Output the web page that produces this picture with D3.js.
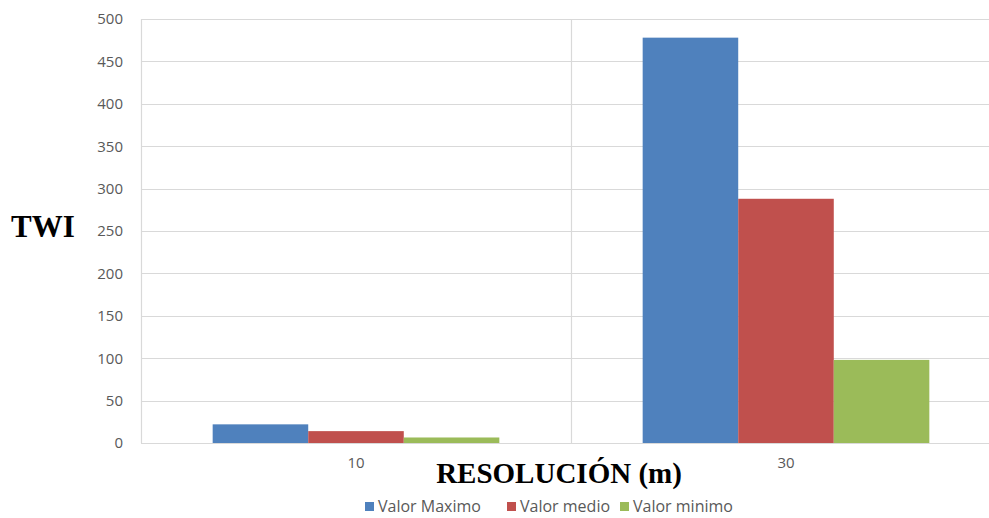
<!DOCTYPE html>
<html>
<head>
<meta charset="utf-8">
<script src="https://cdn.jsdelivr.net/npm/d3@7"></script>
<style>
  body { margin: 0; background: #fff; }
  .tick text { font-family: "Open Sans", sans-serif; font-size: 15px; fill: #595959; }
  .title { font-family: "Liberation Serif", "Times New Roman", serif; font-weight: bold; fill: #000; }
  .legend text { font-family: "Open Sans", sans-serif; font-size: 16px; fill: #595959; }
</style>
</head>
<body>
<div id="chart"></div>
<script>
const resolutions = ['10', '30'];
const seriesNames = ['Valor Maximo', 'Valor medio', 'Valor minimo'];
const valorMaximo = [22, 478];
const valorMedio = [14, 288];
const valorMinimo = [6.5, 98];
const yTicks = [0, 50, 100, 150, 200, 250, 300, 350, 400, 450, 500];
const colors = ['#4f81bd', '#c0504d', '#9bbb59'];

const seriesValues = [valorMaximo, valorMedio, valorMinimo];
const data = resolutions.map((r, i) => ({
  res: r,
  values: seriesNames.map((name, j) => ({ name, idx: j, value: seriesValues[j][i] }))
}));

const width = 989, height = 518;
const margin = { left: 141, right: 1001, top: 19, bottom: 443 };

const svg = d3.select('#chart').append('svg')
  .attr('width', width)
  .attr('height', height);

const x0 = d3.scaleBand()
  .domain(resolutions)
  .range([margin.left, margin.right])
  .paddingInner(1 / 3)
  .paddingOuter(1 / 6);

const x1 = d3.scaleBand()
  .domain(seriesNames)
  .range([0, x0.bandwidth()]);

const y = d3.scaleLinear()
  .domain([0, 500])
  .range([margin.bottom, margin.top]);

// horizontal gridlines
svg.append('g')
  .selectAll('line')
  .data(yTicks)
  .enter().append('line')
  .attr('x1', margin.left)
  .attr('x2', width)
  .attr('y1', d => Math.round(y(d)) + 0.5)
  .attr('y2', d => Math.round(y(d)) + 0.5)
  .attr('stroke', '#d9d9d9')
  .attr('stroke-width', 1.2);

// vertical category lines
const step = x0.step();
svg.append('g')
  .selectAll('line')
  .data([margin.left, margin.left + step])
  .enter().append('line')
  .attr('x1', d => Math.round(d) + 0.5)
  .attr('x2', d => Math.round(d) + 0.5)
  .attr('y1', margin.top)
  .attr('y2', margin.bottom)
  .attr('stroke', '#d9d9d9')
  .attr('stroke-width', 1.2);

// y axis labels
const yAxis = svg.append('g')
  .attr('transform', `translate(${margin.left},0)`)
  .call(d3.axisLeft(y).tickValues(yTicks).tickSize(0).tickPadding(18));
yAxis.select('.domain').remove();

// bars
const groups = svg.append('g')
  .selectAll('g')
  .data(data)
  .enter().append('g')
  .attr('transform', d => `translate(${x0(d.res)},0)`);

groups.selectAll('rect')
  .data(d => d.values)
  .enter().append('rect')
  .attr('x', d => x1(d.name))
  .attr('y', d => y(d.value))
  .attr('width', x1.bandwidth())
  .attr('height', d => y(0) - y(d.value))
  .attr('fill', d => colors[d.idx]);

// x axis labels
const xAxis = svg.append('g')
  .attr('transform', `translate(0,${margin.bottom})`)
  .call(d3.axisBottom(x0).tickSize(0).tickPadding(14));
xAxis.select('.domain').remove();

// titles
svg.append('text')
  .attr('class', 'title')
  .attr('x', 11)
  .attr('y', 237)
  .style('font-size', '31px')
  .text('TWI');

svg.append('text')
  .attr('class', 'title')
  .attr('x', 559)
  .attr('y', 483)
  .attr('text-anchor', 'middle')
  .style('font-size', '29px')
  .text('RESOLUCIÓN (m)');

// legend
const legendX = [365, 507, 620];
const legend = svg.append('g')
  .attr('class', 'legend')
  .selectAll('g')
  .data(seriesNames)
  .enter().append('g')
  .attr('transform', (d, i) => `translate(${legendX[i]},502)`);

legend.append('rect')
  .attr('width', 9)
  .attr('height', 9)
  .attr('fill', (d, i) => colors[i]);

legend.append('text')
  .attr('x', 13)
  .attr('y', 10)
  .text(d => d);
</script>
</body>
</html>
